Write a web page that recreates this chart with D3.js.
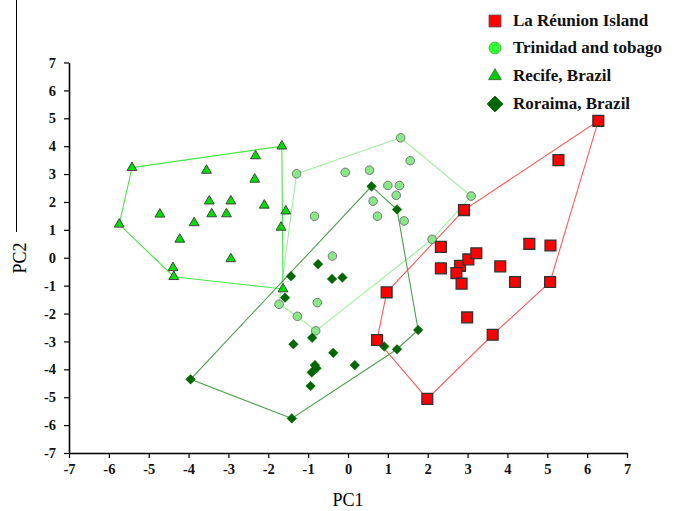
<!DOCTYPE html>
<html><head><meta charset="utf-8">
<script src="https://cdn.jsdelivr.net/npm/d3@7"></script>
<style>body{margin:0;background:#fff}svg{display:block}</style>
</head><body><svg id="c" width="675" height="511"></svg>
<script>
// ---- data ----
const xTicks = [-7,-6,-5,-4,-3,-2,-1,0,1,2,3,4,5,6,7];
const yTicks = [-7,-6,-5,-4,-3,-2,-1,0,1,2,3,4,5,6,7];
const seriesNames = ["La Réunion Island","Trinidad and tobago","Recife, Brazil","Roraima, Brazil"];

const reunionPC1 = [6.28,5.28,2.91,2.33,2.33,2.81,3.02,3.22,2.72,2.85,3.82,4.55,5.08,4.19,5.07,2.99,3.63,0.97,0.73,1.99];
const reunionPC2 = [4.91,3.50,1.71,0.39,-0.38,-0.29,-0.06,0.16,-0.55,-0.93,-0.31,0.50,0.44,-0.87,-0.87,-2.14,-2.76,-1.24,-2.95,-5.06];
const reunionHull = [0,14,16,19,18,17,2];

const trinidadPC1 = [1.32,1.56,-1.29,-0.07,0.54,1.00,1.29,1.21,0.63,3.09,-0.84,0.74,1.41,2.11,-0.39,-1.73,-0.77,-1.27,-0.81];
const trinidadPC2 = [4.30,3.48,3.01,3.06,3.14,2.59,2.59,2.24,2.03,2.21,1.49,1.49,1.32,0.66,0.06,-1.67,-1.61,-2.10,-2.62];
const trinidadHull = [2,0,9,13,18,17,15];

const recifePC1 = [-1.66,-2.32,-5.42,-3.55,-2.34,-3.48,-2.94,-2.10,-4.72,-3.42,-3.05,-1.56,-3.86,-5.74,-1.68,-4.22,-2.94,-4.39,-4.37,-1.63];
const recifePC2 = [4.00,3.65,3.23,3.13,2.81,2.03,2.03,1.88,1.56,1.57,1.57,1.67,1.25,1.20,1.09,0.66,-0.04,-0.36,-0.68,-1.12];
const recifeHull = [2,0,19,18,13];

const roraimaPC1 = [0.59,1.23,-0.75,-1.43,-0.40,-0.14,-1.58,-1.37,-0.90,-0.37,0.17,-0.83,-0.79,-0.91,-0.94,-3.95,-1.41,0.91,1.23,1.76];
const roraimaPC2 = [2.56,1.73,-0.23,-0.66,-0.76,-0.71,-1.43,-3.10,-2.87,-3.41,-3.85,-3.85,-3.96,-4.11,-4.60,-4.36,-5.76,-3.18,-3.28,-2.59];
const roraimaHull = [0,1,19,18,16,15];

// ---- layout ----
const svg = d3.select("#c");
const x = d3.scaleLinear().domain([-7,7]).range([69,627]);
const y = d3.scaleLinear().domain([-7,7]).range([453,62.5]);
const serif = "'Liberation Serif','Times New Roman',serif";

const series = [
  {name:seriesNames[0], px:reunionPC1, py:reunionPC2, hull:reunionHull, line:"#ff5a5a",
   sym:d3.symbolSquare, size:118, rot:0, fill:"#ff0000", stroke:"#333", sw:1.3,
   lsize:144, lfill:"#ff0000", lstroke:"#555"},
  {name:seriesNames[1], px:trinidadPC1, py:trinidadPC2, hull:trinidadHull, line:"#9cf09c",
   sym:d3.symbolCircle, size:58, rot:0, fill:"#88e888", stroke:"#777", sw:1,
   lsize:113, lfill:"#33ff33", lstroke:"#44aa44"},
  {name:seriesNames[2], px:recifePC1, py:recifePC2, hull:recifeHull, line:"#44e844",
   sym:d3.symbolTriangle, size:42, rot:0, fill:"#00dd00", stroke:"#444", sw:1,
   lsize:70, lfill:"#00cc00", lstroke:"#336633"},
  {name:seriesNames[3], px:roraimaPC1, py:roraimaPC2, hull:roraimaHull, line:"#4e9e4e",
   sym:d3.symbolSquare, size:46, rot:45, fill:"#006600", stroke:"#006600", sw:0.5,
   lsize:125, lfill:"#006600", lstroke:"#006600"}
];

// artifact line at far left
svg.append("line").attr("x1",16.5).attr("x2",16.5).attr("y1",0).attr("y2",232)
  .attr("stroke","#000").attr("stroke-width",1);

// hulls
series.forEach(s=>{
  const pts = s.hull.map(i=>[x(s.px[i]), y(s.py[i])]);
  svg.append("path").attr("d", d3.line()(pts)+"Z")
    .attr("fill","none").attr("stroke",s.line).attr("stroke-width",1.1);
});

// points
const drawOrder = [1,2,3,0];
drawOrder.forEach(k=>{
  const s = series[k];
  const g = svg.append("g");
  s.px.forEach((v,i)=>{
    g.append("path").attr("d", d3.symbol().type(s.sym).size(s.size)())
      .attr("transform",`translate(${x(v)},${y(s.py[i])}) rotate(${s.rot})`)
      .attr("fill",s.fill).attr("stroke",s.stroke).attr("stroke-width",s.sw);
  });
});

// axes
const xAxis = svg.append("g").attr("transform","translate(0,453)")
  .call(d3.axisBottom(x).tickValues(xTicks).tickSize(5).tickSizeOuter(0).tickPadding(6).tickFormat(d3.format("d")));
const yAxis = svg.append("g").attr("transform","translate(69,0)")
  .call(d3.axisLeft(y).tickValues(yTicks).tickSize(5).tickSizeOuter(0).tickPadding(8).tickFormat(d3.format("d")));
[xAxis,yAxis].forEach(a=>{
  a.select(".domain").attr("stroke","#000").attr("stroke-width",1.6);
  a.selectAll(".tick line").attr("stroke","#000").attr("stroke-width",1.2);
  a.selectAll("text").attr("font-family",serif).attr("font-weight","bold")
    .attr("font-size",14.5).attr("fill","#111");
});
xAxis.selectAll("text").text(d=>d<0?"-"+Math.abs(d):d);
yAxis.selectAll("text").text(d=>d<0?"-"+Math.abs(d):d);

// axis titles
svg.append("text").attr("x",348).attr("y",506).attr("text-anchor","middle")
  .attr("font-family",serif).attr("font-size",18).text("PC1");
svg.append("text").attr("transform","translate(26,258) rotate(-90)").attr("text-anchor","middle")
  .attr("font-family",serif).attr("font-size",18).text("PC2");

// legend
const legY = [21,48,76,104];
series.forEach((s,i)=>{
  svg.append("path").attr("d", d3.symbol().type(s.sym).size(s.lsize)())
    .attr("transform",`translate(495,${legY[i]}) rotate(${s.rot})`)
    .attr("fill",s.lfill).attr("stroke",s.lstroke).attr("stroke-width",0.8);
  svg.append("text").attr("x",513).attr("y",legY[i]+5).attr("font-family",serif)
    .attr("font-weight","bold").attr("font-size",17).attr("fill","#111").text(s.name);
});
</script></body></html>
